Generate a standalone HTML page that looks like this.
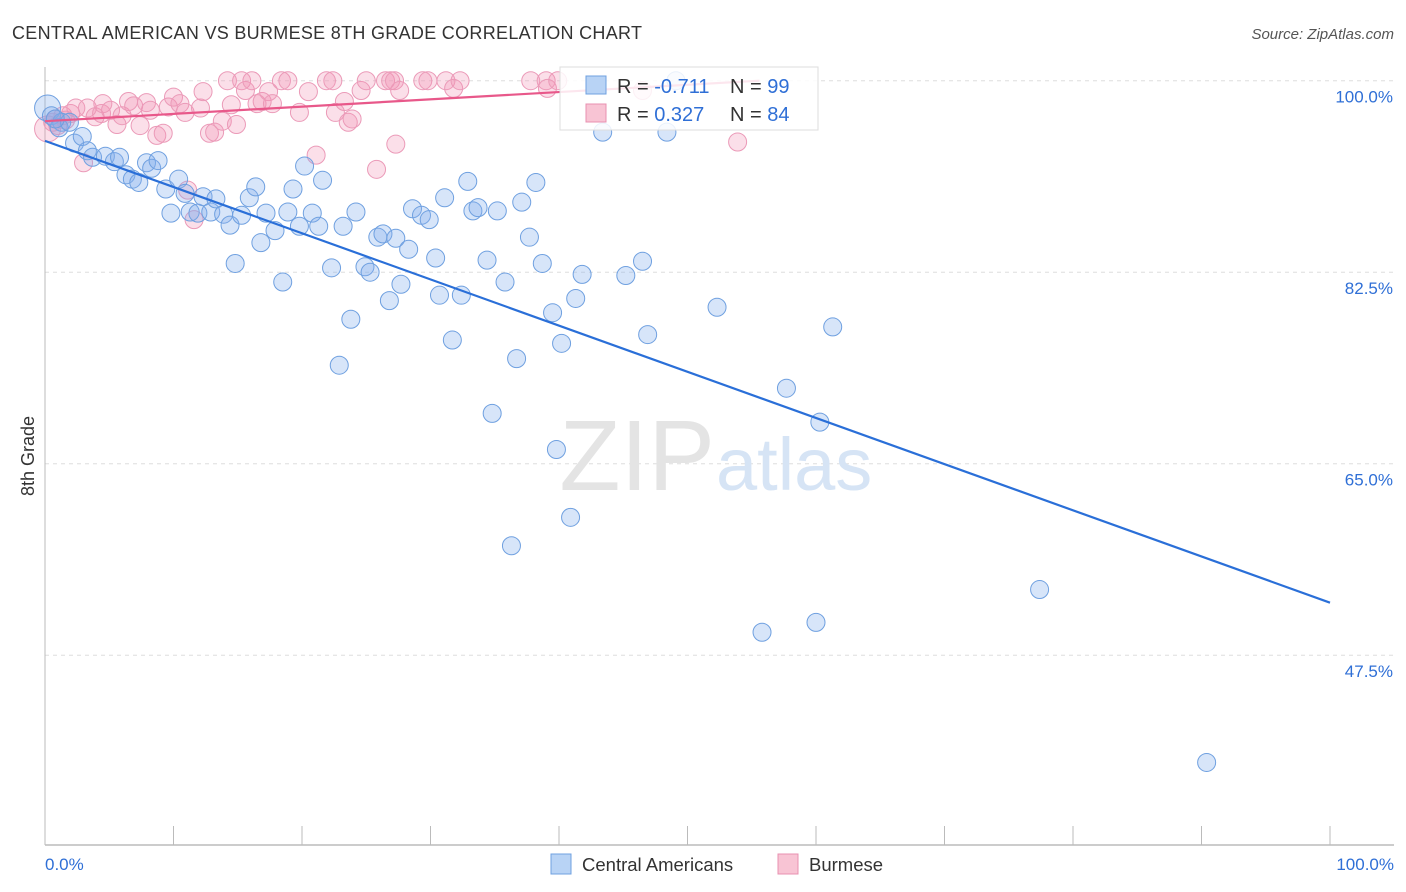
<!DOCTYPE html>
<html><head><meta charset="utf-8">
<style>
body{margin:0;background:#fff;font-family:"Liberation Sans",sans-serif;}
svg{display:block}
text{font-family:"Liberation Sans",sans-serif}
</style></head>
<body>
<svg id="chart" width="1406" height="892">
<text x="12" y="39" font-size="18" fill="#333" letter-spacing="0.3">CENTRAL AMERICAN VS BURMESE 8TH GRADE CORRELATION CHART</text>
<text x="1394" y="39" font-size="15" fill="#555" font-style="italic" text-anchor="end">Source: ZipAtlas.com</text>
<text x="34" y="456" font-size="18" fill="#333" transform="rotate(-90 34 456)" text-anchor="middle">8th Grade</text>
<g id="grid"></g>
<text x="715" y="490" font-size="100" fill="#e4e4e4" text-anchor="end" font-family="Liberation Serif">ZIP</text>
<text x="716" y="490" font-size="74" fill="#d6e4f5">atlas</text>
<g id="marks"></g>
<g id="legend-box">
<rect x="560" y="67" width="258" height="63" fill="#fff" fill-opacity="0.85" stroke="#ddd"/>
<rect x="586" y="76" width="20" height="18" fill="#b8d3f5" stroke="#6fa0e0"/>
<rect x="586" y="104" width="20" height="18" fill="#f8c4d4" stroke="#e890b0"/>
<text x="617" y="93" font-size="20" fill="#333">R = <tspan fill="#2f6fd6">-0.711</tspan></text>
<text x="730" y="93" font-size="20" fill="#333">N = <tspan fill="#2f6fd6">99</tspan></text>
<text x="617" y="121" font-size="20" fill="#333">R = <tspan fill="#2f6fd6"> 0.327</tspan></text>
<text x="730" y="121" font-size="20" fill="#333">N = <tspan fill="#2f6fd6">84</tspan></text>
</g>
<g>
<rect x="551" y="854" width="20" height="20" fill="#b8d3f5" stroke="#6fa0e0"/>
<text x="582" y="871" font-size="18.5" fill="#333">Central Americans</text>
<rect x="778" y="854" width="20" height="20" fill="#f8c4d4" stroke="#e890b0"/>
<text x="809" y="871" font-size="18.5" fill="#333">Burmese</text>
</g>
</svg>
<script>
const yTicks=[100,82.5,65,47.5];
const yTickLabels=["100.0%","82.5%","65.0%","47.5%"];
const xTicks=[0,10,20,30,40,50,60,70,80,90,100];
const blueX=[0.2,0.5,1.3,2.3,2.9,3.3,3.7,4.7,5.4,5.8,6.3,6.8,7.3,7.9,8.3,8.8,9.4,9.8,10.4,10.9,11.3,11.9,12.3,12.9,13.3,13.9,14.4,14.8,15.3,15.9,16.4,16.8,17.2,17.9,18.5,18.9,19.3,19.8,20.2,20.8,21.3,21.6,22.3,22.9,23.2,23.8,24.2,24.9,25.3,25.9,26.3,26.8,27.3,27.7,28.3,28.6,29.3,29.9,30.4,30.7,31.1,31.7,32.4,32.9,33.3,33.7,34.4,34.8,35.2,35.8,36.3,36.7,37.1,37.7,38.2,38.7,39.5,39.8,40.2,40.9,41.3,41.8,43.4,45.2,46.5,46.9,48.4,49.1,52.3,55.8,57.7,60.0,60.3,61.3,77.4,90.4,1.1,1.9,0.8];
const blueY=[97.5,96.8,96.2,94.3,94.9,93.6,93.0,93.1,92.6,93.0,91.4,91.0,90.7,92.5,92.0,92.7,90.1,87.9,91.0,89.7,88.0,87.9,89.4,88.0,89.2,87.8,86.8,83.3,87.7,89.3,90.3,85.2,87.9,86.3,81.6,88.0,90.1,86.7,92.2,87.9,86.7,90.9,82.9,74.0,86.7,78.2,88.0,83.0,82.5,85.7,86.0,79.9,85.6,81.4,84.6,88.3,87.7,87.3,83.8,80.4,89.3,76.3,80.4,90.8,88.1,88.4,83.6,69.6,88.1,81.6,57.5,74.6,88.9,85.7,90.7,83.3,78.8,66.3,76.0,60.1,80.1,82.3,95.3,82.2,83.5,76.8,95.3,100,79.3,49.6,71.9,50.5,68.8,77.5,53.5,37.7,95.7,96.2,96.5];
const pinkX=[0.2,0.8,1.4,2.0,2.4,3.0,3.3,3.9,4.4,4.5,5.1,5.6,6.0,6.5,6.9,7.4,7.9,8.2,8.7,9.2,9.6,10.0,10.5,10.9,11.1,11.6,12.1,12.3,12.8,13.2,13.8,14.2,14.5,14.9,15.3,15.6,16.1,16.5,16.9,17.4,17.7,18.4,18.9,19.8,20.5,21.1,21.9,22.4,22.6,23.3,23.6,23.9,24.6,25.0,25.8,26.5,26.9,27.2,27.3,27.6,29.4,29.8,31.2,31.8,32.3,37.8,39.0,39.1,39.9,46.5,53.9,0.6,1.0,1.6];
const pinkY=[95.6,96.5,96.8,97.0,97.5,92.5,97.5,96.7,97.0,97.9,97.3,96.0,96.8,98.1,97.7,95.9,98.0,97.3,95.0,95.2,97.6,98.5,97.9,97.1,90.0,87.3,97.5,99.0,95.2,95.3,96.3,100,97.8,96.0,100,99.1,100,97.9,98.1,99.0,97.9,100,100,97.1,99.0,93.2,100,100,97.1,98.1,96.2,96.5,99.1,100,91.9,100,100,100,94.2,99.1,100,100,100,99.3,100,100,100,99.3,100,99.1,94.4,96.2,95.9,96.4];
const blueTrend=[[0,94.5],[100,52.3]];
const pinkTrend=[[0,96.3],[55.6,100]];
const X=v=>45+v*12.85;
const Y=v=>80.7+(100-v)*10.943;
const NS="http://www.w3.org/2000/svg";
const grid=document.getElementById('grid');
const marks=document.getElementById('marks');
function mk(tag,attrs,parent){const e=document.createElementNS(NS,tag);for(const k in attrs)e.setAttribute(k,attrs[k]);parent.appendChild(e);return e;}
yTicks.forEach((t,i)=>{
 const l=mk('line',{x1:45,x2:1394,y1:Y(t),y2:Y(t),stroke:'#ddd','stroke-dasharray':'4,4'},grid);
 
 
 const tx=mk('text',{x:1393,y:Y(t)+22,'font-size':17,fill:'#2f6fd6','text-anchor':'end'},grid);
 tx.textContent=yTickLabels[i];
 
 
});
const ya=mk('line',{x1:45,x2:45,y1:67,y2:845,stroke:'#bbb'},grid);


const xa=mk('line',{x1:45,x2:1394,y1:845,y2:845,stroke:'#bbb','stroke-width':1.5},grid);


xTicks.forEach(t=>{
 const l=mk('line',{x1:X(t),x2:X(t),y1:826,y2:845,stroke:'#bbb'},grid);
 
 
});
[[0,'start','0.0%'],[100,'end','100.0%']].forEach(([v,a,s])=>{
 const tx=mk('text',{x:v==0?X(v):X(v)+64,y:870,'font-size':17,fill:'#2f6fd6','text-anchor':a},grid);
 tx.textContent=s;
 
 
});
pinkX.forEach((x,i)=>{
 const c=mk('circle',{cx:X(x),cy:Y(pinkY[i]),r:i==0?13:9,fill:'rgba(242,150,182,0.3)',stroke:'#eb9ab8','stroke-width':1},marks);
 
 
});
blueX.forEach((x,i)=>{
 const c=mk('circle',{cx:X(x),cy:Y(blueY[i]),r:i==0?13:9,fill:'rgba(130,175,235,0.32)',stroke:'#6fa0e0','stroke-width':1},marks);
 
 
});
const bl=mk('line',{x1:X(blueTrend[0][0]),y1:Y(blueTrend[0][1]),x2:X(blueTrend[1][0]),y2:Y(blueTrend[1][1]),stroke:'#2a6fd8','stroke-width':2.2},marks);


const pl=mk('line',{x1:X(pinkTrend[0][0]),y1:Y(pinkTrend[0][1]),x2:X(pinkTrend[1][0]),y2:Y(pinkTrend[1][1]),stroke:'#e8588a','stroke-width':2.2},marks);


</script>
</body></html>
